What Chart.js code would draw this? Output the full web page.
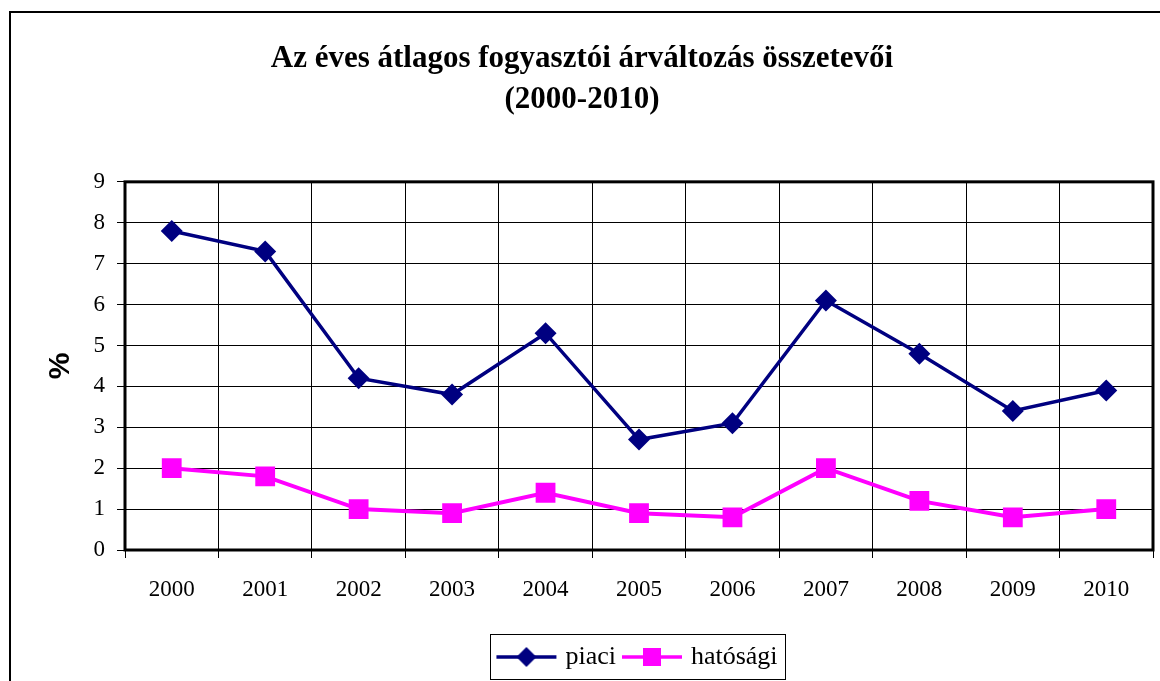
<!DOCTYPE html>
<html>
<head>
<meta charset="utf-8">
<script src="https://cdn.jsdelivr.net/npm/chart.js@4.4.1/dist/chart.umd.min.js"></script>
<style>
  body { margin: 0; background: #fff; overflow: hidden; }
  #frame { position: absolute; left: 9px; top: 11px; width: 1164px; height: 680px; border: 2px solid #000; background: #fff; }
</style>
</head>
<body>
<div id="frame"><canvas id="chart1" width="1164" height="680"></canvas></div>
<script>
// data
var years = ['2000', '2001', '2002', '2003', '2004', '2005', '2006', '2007', '2008', '2009', '2010'];
var piaci = [7.8, 7.3, 4.2, 3.8, 5.3, 2.7, 3.1, 6.1, 4.8, 3.4, 3.9];
var hatosagi = [2.0, 1.8, 1.0, 0.9, 1.4, 0.9, 0.8, 2.0, 1.2, 0.8, 1.0];
var titleLines = ['Az éves átlagos fogyasztói árváltozás összetevői', '(2000-2010)'];

var serif = "'Liberation Serif', 'Times New Roman', serif";
var navy = '#000080';
var pink = '#FF00FF';

// legend symbols: short line with the marker in the middle
function legendIcon(color, shape) {
    var c = document.createElement('canvas');
    c.width = 62; c.height = 24;
    var g = c.getContext('2d');
    g.strokeStyle = color; g.fillStyle = color; g.lineWidth = 3.5;
    g.beginPath(); g.moveTo(1, 12); g.lineTo(61, 12); g.stroke();
    if (shape == 'diamond') {
        g.beginPath(); g.moveTo(31, 2); g.lineTo(41, 12); g.lineTo(31, 22); g.lineTo(21, 12); g.closePath(); g.fill();
    } else {
        g.fillRect(22, 3, 18, 18);
    }
    return c;
}
var icons = [legendIcon(navy, 'diamond'), legendIcon(pink, 'square')];

var frames = {
    id: 'frames',
    afterLayout: function (chart) {
        // legend box sits under the middle of the plot, not the canvas
        var lg = chart.legend, a = chart.chartArea;
        var shift = (a.left + a.right) / 2 - (lg.left + lg.right) / 2;
        lg.left += shift; lg.right += shift;
    },
    beforeDatasetsDraw: function (chart) {
        var a = chart.chartArea, ctx = chart.ctx;
        ctx.save();
        ctx.strokeStyle = '#000'; ctx.lineWidth = 3;
        ctx.strokeRect(a.left, a.top, a.right - a.left, a.bottom - a.top);
        ctx.restore();
    },
    afterDraw: function (chart) {
        var lg = chart.legend, ctx = chart.ctx;
        var hb = lg.legendHitBoxes;
        if (!hb || !hb.length) return;
        var l = hb[0].left - 10, r = hb[hb.length - 1].left + hb[hb.length - 1].width + 8;
        ctx.save();
        ctx.strokeStyle = '#000'; ctx.lineWidth = 1;
        ctx.strokeRect(Math.round(l) + 0.5, Math.round(lg.top) + 0.5, Math.round(r - l), Math.round(lg.height) - 1);
        ctx.restore();
    }
};

var ctx = document.getElementById('chart1').getContext('2d');
var chart = new Chart(ctx, {
    type: 'line',
    data: {
        labels: years,
        datasets: [{
            label: 'piaci',
            data: piaci,
            borderColor: navy,
            backgroundColor: navy,
            borderWidth: 3.5,
            pointStyle: 'rectRot',
            pointRadius: 11,
            pointBorderWidth: 0,
            pointHoverRadius: 11,
            tension: 0
        },
        {
            label: 'hatósági',
            data: hatosagi,
            borderColor: pink,
            backgroundColor: pink,
            borderWidth: 4,
            pointStyle: 'rect',
            pointRadius: 14,
            pointBorderWidth: 0,
            pointHoverRadius: 14,
            tension: 0
        }]
    },
    options: {
        responsive: false,
        animation: false,
        layout: { padding: { left: 0, right: 22, top: 0, bottom: 13 } },
        plugins: {
            tooltip: { enabled: false },
            title: {
                display: true,
                text: titleLines,
                color: '#000',
                font: { family: serif, size: 31, weight: 'bold', lineHeight: 1.32 },
                padding: { top: 26, bottom: 61 }
            },
            legend: {
                position: 'bottom',
                labels: {
                    color: '#000',
                    font: { family: serif, size: 26 },
                    usePointStyle: true,
                    pointStyleWidth: 52,
                    padding: 10,
                    generateLabels: function (chart) {
                        var items = Chart.defaults.plugins.legend.labels.generateLabels(chart);
                        items.forEach(function (it, i) { it.pointStyle = icons[i]; });
                        return items;
                    }
                }
            }
        },
        scales: {
            x: {
                offset: true,
                afterFit: function (s) { s.height = 84; },
                grid: { offset: true, color: '#000', lineWidth: 1, tickLength: 8, tickColor: '#000' },
                border: { display: false },
                ticks: { color: '#000', font: { family: serif, size: 23 }, padding: 18, autoSkip: false, maxRotation: 0 }
            },
            y: {
                min: 0,
                max: 9,
                afterFit: function (s) { s.width = 114; },
                grid: { color: '#000', lineWidth: 1, tickLength: 8, tickColor: '#000' },
                border: { display: false },
                ticks: { stepSize: 1, color: '#000', font: { family: serif, size: 23 }, padding: 12 },
                title: {
                    display: true,
                    text: '%',
                    color: '#000',
                    font: { family: "'Liberation Sans', Arial, sans-serif", size: 30, weight: 'bold' },
                    padding: { top: 32, bottom: 0 }
                }
            }
        }
    },
    plugins: [frames]
});
</script>
</body>
</html>
